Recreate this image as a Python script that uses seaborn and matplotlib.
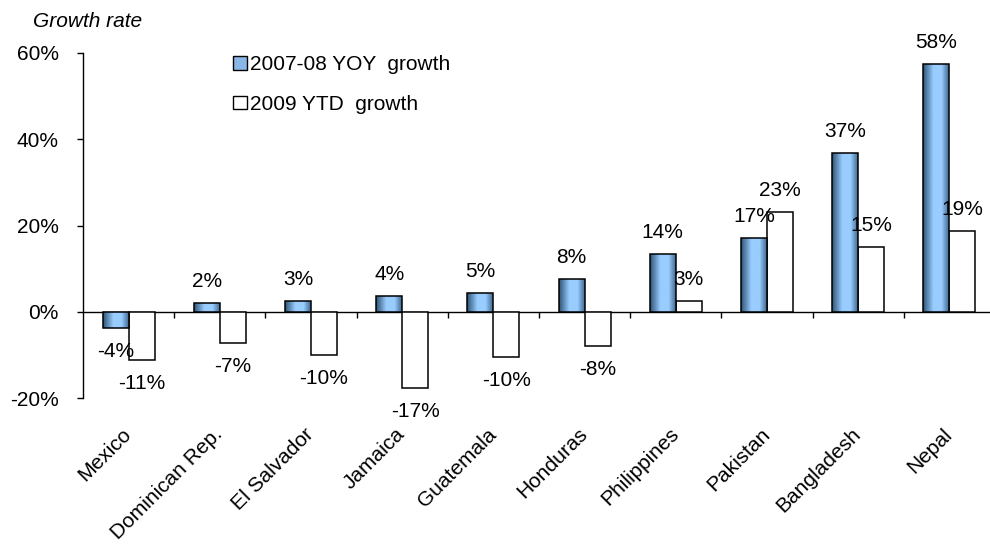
import numpy as np
import pandas as pd
import matplotlib
matplotlib.use("Agg")
import matplotlib.pyplot as plt
from matplotlib.colors import LinearSegmentedColormap
from matplotlib.patches import Patch
from matplotlib.ticker import FuncFormatter
import seaborn as sns

# ================================
# Data (in %)
# ================================
countries = ["Mexico", "Dominican Rep.", "El Salvador", "Jamaica", "Guatemala",
             "Honduras", "Philippines", "Pakistan", "Bangladesh", "Nepal"]
yoy_growth = [-3.7, 2.1, 2.4, 3.7, 4.4, 7.6, 13.5, 17.2, 36.7, 57.4]
ytd_growth = [-11.2, -7.2, -10.0, -17.6, -10.4, -7.9, 2.4, 23.2, 14.9, 18.8]
yoy_labels = ["-4%", "2%", "3%", "4%", "5%", "8%", "14%", "17%", "37%", "58%"]
ytd_labels = ["-11%", "-7%", "-10%", "-17%", "-10%", "-8%", "3%", "23%", "15%", "19%"]
series = ["2007-08 YOY  growth", "2009 YTD  growth"]
y_ticks = [-20, 0, 20, 40, 60]

df = pd.DataFrame({
    "country": countries * 2,
    "series": [series[0]] * len(countries) + [series[1]] * len(countries),
    "growth": yoy_growth + ytd_growth,
})

sns.set_style("white")
plt.rcParams["font.family"] = ["Liberation Sans", "DejaVu Sans"]
plt.rcParams.update({"text.color": "black", "xtick.color": "black",
                     "ytick.color": "black", "axes.labelcolor": "black"})
FS = 15

fig = plt.figure(figsize=(9.9, 5.45), dpi=100)
ax = fig.add_axes([83 / 990, 1 - 398 / 545, (995 - 83) / 990, (398 - 53) / 545])

sns.barplot(data=df, x="country", y="growth", hue="series", hue_order=series,
            palette={series[0]: "#99CCFF", series[1]: "white"},
            edgecolor="black", linewidth=1.1, width=0.57, legend=False, ax=ax)

# gradient fill for the first series (dark edges, light middle)
grad_cmap = LinearSegmentedColormap.from_list(
    "bar_grad", [(0, "#2E5577"), (0.4, "#99CCFF"), (0.72, "#99CCFF"), (1, "#3F6A92")])
grad = np.linspace(0, 1, 64).reshape(1, -1)
for p in ax.containers[0]:
    bb = p.get_bbox()
    p.set_facecolor("none")
    p.set_zorder(3)
    im = ax.imshow(grad, cmap=grad_cmap, aspect="auto", zorder=2,
                   extent=[bb.x0, bb.x1, min(bb.y0, bb.y1), max(bb.y0, bb.y1)])
    im.set_clip_path(p)

# value labels
for cont, labels in zip(ax.containers, [yoy_labels, ytd_labels]):
    for p, lab in zip(cont, labels):
        bb = p.get_bbox()
        val = p.get_height()
        end = max(bb.y0, bb.y1) if val >= 0 else min(bb.y0, bb.y1)
        ax.annotate(lab, ((bb.x0 + bb.x1) / 2, end),
                    xytext=(0, 15.5 if val >= 0 else -17), textcoords="offset points",
                    ha="center", va="center", fontsize=FS, zorder=5)

n = len(countries)
ax.set_xlim(-0.5, n - 0.5)
ax.set_ylim(y_ticks[0], y_ticks[-1])
ax.set_yticks(y_ticks)
ax.yaxis.set_major_formatter(FuncFormatter(lambda v, _: f"{v:.0f}%"))
ax.tick_params(axis="y", direction="out", length=4.5, width=1, pad=13,
               labelsize=FS, left=True, colors="black")
ax.tick_params(axis="x", length=0, pad=24, labelsize=FS, colors="black")
for lab in ax.get_xticklabels():
    lab.set_rotation(45)
    lab.set_ha("right")
    lab.set_va("center")
    lab.set_rotation_mode("anchor")
ax.set_xlabel("")
ax.set_ylabel("")
for side in ["top", "right", "bottom"]:
    ax.spines[side].set_visible(False)
ax.spines["left"].set_color("black")
ax.spines["left"].set_linewidth(1)

# zero line with category separator ticks
sec = ax.secondary_xaxis(0, transform=ax.transData)
sec.set_xticks(np.arange(0.5, n, 1.0))
sec.tick_params(direction="out", length=4, width=1, labelbottom=False, colors="black")
sec.spines["bottom"].set_color("black")
sec.spines["bottom"].set_linewidth(1)

handles = [Patch(facecolor="#8AB8E6", edgecolor="black", linewidth=1),
           Patch(facecolor="white", edgecolor="black", linewidth=1)]
fig.legend(handles, series, loc="upper left", bbox_to_anchor=(233 / 990, 1 - 55 / 545),
           bbox_transform=fig.transFigure, frameon=False, fontsize=FS,
           handlelength=0.65, handleheight=0.65, handletextpad=0.15,
           labelspacing=1.0, borderpad=0, borderaxespad=0)

fig.text(33 / 990, 1 - 27 / 545, "Growth rate", style="italic", fontsize=15,
         va="baseline", ha="left")

fig.savefig("out.png", dpi=100)
